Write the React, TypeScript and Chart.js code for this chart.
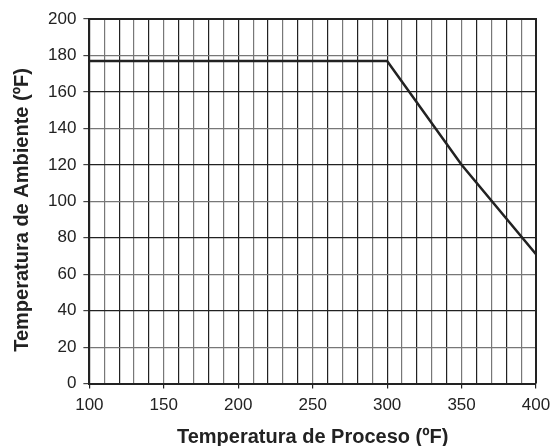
import React, { useEffect, useRef } from "react";
import { Chart, registerables } from "chart.js";

Chart.register(...registerables);

const processTemps = [100, 300, 350, 400];
const ambientTemps = [177, 177, 120, 71];
const xTickLabels = [100, 150, 200, 250, 300, 350, 400];
const yTickLabels = [0, 20, 40, 60, 80, 100, 120, 140, 160, 180, 200];
const xTitle = "Temperatura de Proceso (ºF)";
const yTitle = "Temperatura de Ambiente (ºF)";

const FONT = "'Liberation Sans', Arial, Helvetica, sans-serif";

export default function App() {
  const ref = useRef<HTMLCanvasElement | null>(null);
  useEffect(() => {
    if (!ref.current) return;
    const chart = new Chart(ref.current, {
      type: "line",
      data: {
        datasets: [
          {
            data: processTemps.map((x, i) => ({ x, y: ambientTemps[i] })),
            borderColor: "#222",
            borderWidth: 2.5,
            pointRadius: 0,
            tension: 0,
          },
        ],
      },
      options: {
        animation: false,
        responsive: false,
        maintainAspectRatio: false,
        layout: { padding: { top: 19, right: 16, left: 41, bottom: -3 } },
        plugins: { legend: { display: false }, tooltip: { enabled: false } },
        scales: {
          x: {
            type: "linear",
            min: 100,
            max: 400,
            afterFit: (s: any) => {
              s.paddingRight = 0;
              s.paddingLeft = 0;
            },
            border: { display: true, color: "#222", width: 2 },
            grid: {
              color: (ctx: any) => (ctx.index % 2 === 0 ? "#222" : "#777"),
              lineWidth: 1.2,
              tickLength: 5,
              tickColor: (ctx: any) =>
                ctx.tick && xTickLabels.includes(ctx.tick.value) ? "#222" : "rgba(0,0,0,0)",
            },
            ticks: {
              stepSize: 10,
              autoSkip: false,
              maxRotation: 0,
              color: "#222",
              padding: 7,
              font: { family: FONT, size: 17 },
              callback: (v: any) => (xTickLabels.includes(Number(v)) ? String(v) : ""),
            },
            title: {
              display: true,
              text: xTitle,
              color: "#222",
              font: { family: FONT, size: 20, weight: "bold" },
              padding: { top: 2, bottom: 0 },
            },
          },
          y: {
            type: "linear",
            min: 0,
            max: 200,
            border: { display: true, color: "#222", width: 2 },
            grid: {
              color: (ctx: any) => (ctx.index % 2 === 0 ? "#222" : "#777"),
              lineWidth: 1.2,
              tickLength: 6,
              tickColor: "#444",
            },
            ticks: {
              stepSize: 20,
              color: "#222",
              padding: 7,
              font: { family: FONT, size: 17 },
              callback: (v: any) => (yTickLabels.includes(Number(v)) ? String(v) : ""),
            },
          },
        },
      },
      plugins: [
        {
          id: "frame",
          afterDraw(c: any) {
            const { ctx, chartArea: a } = c;
            ctx.save();
            ctx.strokeStyle = "#222";
            ctx.lineWidth = 2;
            ctx.beginPath();
            ctx.moveTo(a.left, a.top);
            ctx.lineTo(a.right, a.top);
            ctx.lineTo(a.right, a.bottom);
            ctx.stroke();
            ctx.translate(22.5, 210);
            ctx.rotate(-Math.PI / 2);
            ctx.fillStyle = "#222";
            ctx.font = `bold 20px ${FONT}`;
            ctx.textAlign = "center";
            ctx.textBaseline = "middle";
            ctx.fillText(yTitle, 0, 0);
            ctx.restore();
          },
        },
      ],
    } as any);
    return () => chart.destroy();
  }, []);
  return (
    <div style={{ position: "fixed", left: 0, top: 0, width: 552, height: 446, background: "#fff" }}>
      <canvas ref={ref} width={552} height={446} />
    </div>
  );
}
